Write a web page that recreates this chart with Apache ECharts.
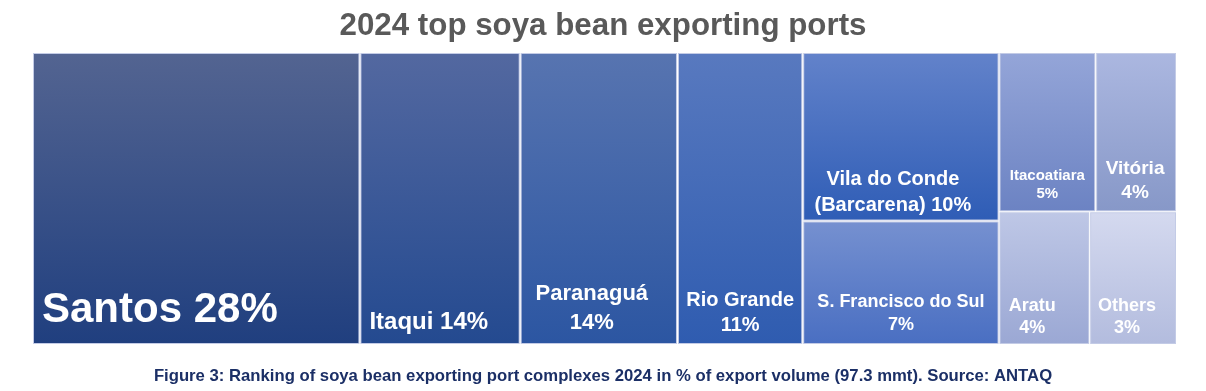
<!DOCTYPE html>
<html><head><meta charset="utf-8">
<script src="https://cdn.jsdelivr.net/npm/echarts@6/dist/echarts.min.js"></script>
<style>html,body{margin:0;padding:0;background:#fff}#c{width:1206px;height:391px}</style>
</head><body><div id="c"></div>
<script>
// ---- data ----
const ports = ['Santos', 'Itaqui', 'Paranaguá', 'Rio Grande', 'Vila do Conde\n(Barcarena)', 'S. Francisco do Sul', 'Itacoatiara', 'Vitória', 'Aratu', 'Others'];
// share of export volume (%)
const shares = [28.6, 14.0, 13.74, 10.94, 9.9, 7.25, 4.6, 3.85, 3.6, 3.45];
// printed percentage labels
const shareLabels = [28, 14, 14, 11, 10, 7, 5, 4, 4, 3];
// hierarchy of cells (indices into ports)
const grouping = [0, 1, 2, 3, [4, 5], [[6, 7], [8, 9]]];
const titleText = '2024 top soya bean exporting ports';
const captionText = 'Figure 3: Ranking of soya bean exporting port complexes 2024 in % of export volume (97.3 mmt). Source: ANTAQ';

// ---- styles (per cell) ----
const cellStyles = [
  {top: '#536491', bot: '#203f7f', fs: 42, lh: 42, pos: 'insideBottomLeft', off: [8, -12], sep: ' '},
  {top: '#5368a0', bot: '#244a90', fs: 24, lh: 24, pos: 'insideBottomLeft', off: [8, -9], sep: ' '},
  {top: '#5774b0', bot: '#2c56a2', fs: 22, lh: 29, pos: 'insideBottom', off: [-7, -6], sep: '\n'},
  {top: '#5879bf', bot: '#2f5cb0', fs: 20, lh: 25, pos: 'insideBottom', off: [0, -5], sep: '\n'},
  {top: '#6282ca', bot: '#2f5db6', fs: 20, lh: 26, pos: 'insideBottom', off: [-8, -1.5], sep: ' '},
  {top: '#7590d0', bot: '#4a6fc2', fs: 18, lh: 23, pos: 'insideBottom', off: [0, -6], sep: '\n'},
  {top: '#94a5d8', bot: '#6c83c3', fs: 15, lh: 18.5, pos: 'insideBottom', off: [0, -7], sep: '\n'},
  {top: '#abb7e0', bot: '#8798c8', fs: 19, lh: 24.4, pos: 'insideBottom', off: [-1, -5], sep: '\n'},
  {top: '#bec7e6', bot: '#9ba8d4', fs: 18, lh: 22, pos: 'insideBottom', off: [-12, -4], sep: '\n'},
  {top: '#d4d9ef', bot: '#b3bcde', fs: 18, lh: 22, pos: 'insideBottom', off: [-6, -4], sep: '\n'}
];
const FONT = '"Liberation Sans", Arial, sans-serif';

function build(node) {
  if (Array.isArray(node)) {
    return {name: '', children: node.map(build)};
  }
  const i = node, s = cellStyles[i];
  return {
    name: ports[i],
    value: shares[i],
    text: ports[i] + s.sep + shareLabels[i] + '%',
    itemStyle: {
      color: new echarts.graphic.LinearGradient(0, 0, 0, 1, [
        {offset: 0, color: s.top}, {offset: 1, color: s.bot}
      ]),
      borderWidth: 1,
      borderColor: '#c3cbe6'
    },
    label: {
      position: s.pos,
      offset: s.off,
      fontSize: s.fs,
      lineHeight: s.lh
    }
  };
}

const chart = echarts.init(document.getElementById('c'), null, {renderer: 'canvas'});
chart.setOption({
  animation: false,
  title: [
    {text: titleText, left: 'center', top: 6,
     textStyle: {fontSize: 31.3, fontWeight: 'bold', color: '#595959', fontFamily: FONT}},
    {text: captionText, left: 'center', top: 363,
     textStyle: {fontSize: 16.7, fontWeight: 'bold', color: '#1b2f66', fontFamily: FONT}}
  ],
  series: [{
    type: 'treemap',
    left: 33, top: 53, width: 1143, height: 291,
    sort: false,
    squareRatio: 1,
    roam: false,
    nodeClick: false,
    breadcrumb: {show: false},
    itemStyle: {borderWidth: 0, gapWidth: 1, borderColor: '#fff'},
    upperLabel: {show: false},
    label: {
      show: true, color: '#fff', fontWeight: 'bold', fontFamily: FONT,
      padding: 0, distance: 0, overflow: 'none',
      formatter: p => p.data.text
    },
    emphasis: {disabled: true},
    data: grouping.map(build)
  }]
});
</script>
</body></html>
